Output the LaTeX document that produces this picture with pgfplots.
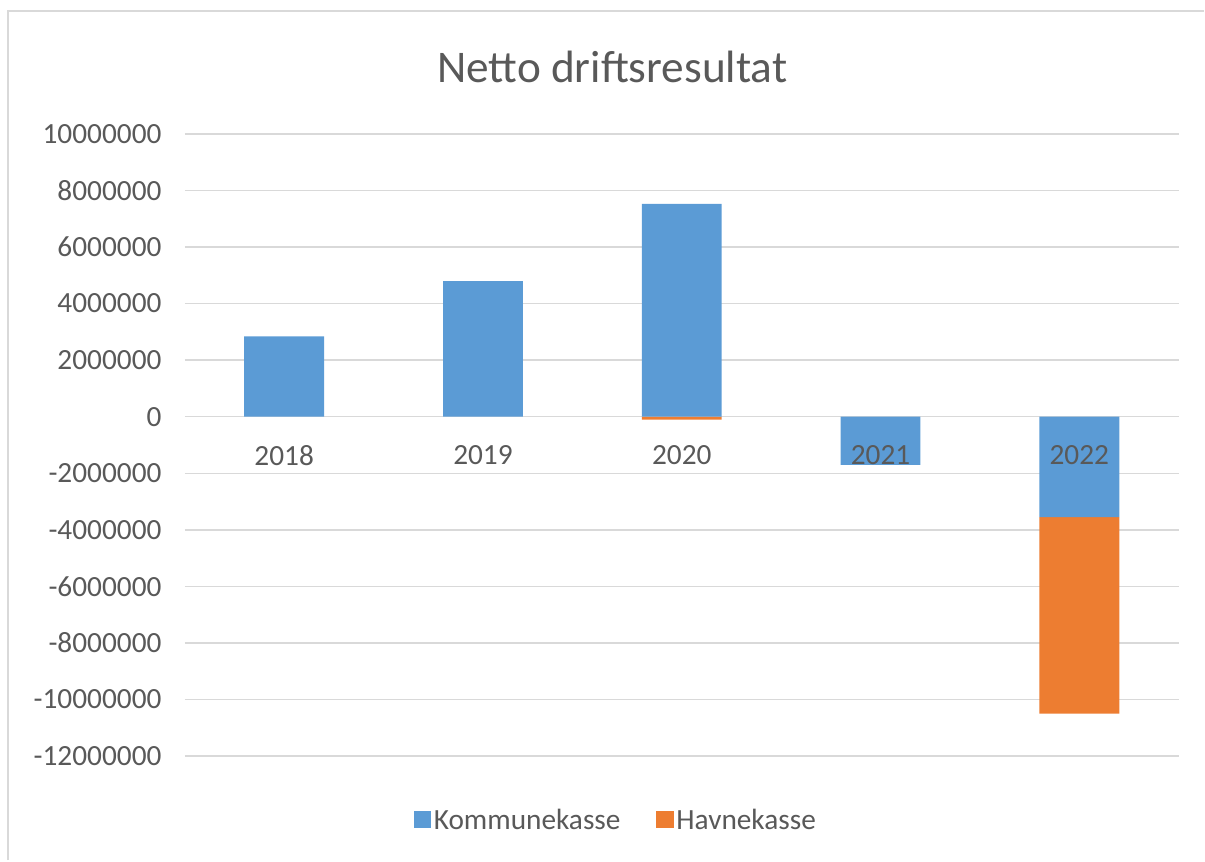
\documentclass[border=0pt]{standalone}
\usepackage{fontspec}
\setmainfont{Carlito}
\usepackage{pgfplots}
\pgfplotsset{compat=1.18}
\definecolor{kblue}{HTML}{5B9BD5}
\definecolor{horange}{HTML}{ED7D31}
\definecolor{txt}{HTML}{595959}
\definecolor{gridc}{HTML}{D9D9D9}
\tikzset{yrlabel/.style={txt, font=\fontsize{22}{26}\selectfont, yshift=-29pt}}
\begin{document}
\begin{tikzpicture}
% page = 1205 x 861 px at 0.75pt per px
\path (0pt,0pt) rectangle (903.75pt,645.75pt);
\draw[gridc, line width=2pt] (6pt,0pt) -- (6pt,637.5pt) -- (903.75pt,637.5pt);
\node[txt, font=\fontsize{34}{40}\selectfont] at (459.75pt,595.5pt) {Netto driftsresultat};
\begin{axis}[
    at={(138.75pt,78pt)}, anchor=south west,
    scale only axis,
    width=746.25pt, height=467.25pt,
    ybar stacked, stack negative=separate,
    bar width=60pt,
    xmin=-0.5, xmax=4.5,
    ymin=-12000000, ymax=10000000,
    ytick distance=2000000,
    xtick={0,1,2,3,4},
    xticklabels={},
    axis x line=middle,
    axis y line=left,
    x axis line style={gridc, line width=1pt, -},
    y axis line style={draw=none},
    major tick length=0pt,
    ymajorgrids,
    grid style={gridc, line width=1pt},
    scaled y ticks=false,
    /pgf/number format/assume math mode=true,
    yticklabel style={/pgf/number format/fixed, /pgf/number format/1000 sep={},
        xshift=-14pt},
    ticklabel style={txt, font=\fontsize{22}{26}\selectfont},
    legend columns=2,
    legend style={at={(0.434,-0.103)}, anchor=center, draw=none, fill=none,
        font=\fontsize{22}{26}\selectfont, text=txt,
        /tikz/every even column/.append style={column sep=25pt}},
    legend image code/.code={\fill[#1] (0pt,-6pt) rectangle (13pt,7pt);},
]
\addplot[fill=kblue, draw=none] coordinates {
    (0,2840000) (1,4790000) (2,7520000) (3,-1700000) (4,-3550000)
};
\addplot[fill=horange, draw=none] coordinates {
    (0,0) (1,0) (2,-100000) (3,0) (4,-6950000)
};
\legend{Kommunekasse,Havnekasse}
\coordinate (c0) at (axis cs:0,0);
\coordinate (c1) at (axis cs:1,0);
\coordinate (c2) at (axis cs:2,0);
\coordinate (c3) at (axis cs:3,0);
\coordinate (c4) at (axis cs:4,0);
\end{axis}
% category names sit on the zero line, drawn over the bars
\node[yrlabel] at (c0) {2018};
\node[yrlabel] at (c1) {2019};
\node[yrlabel] at (c2) {2020};
\node[yrlabel] at (c3) {2021};
\node[yrlabel] at (c4) {2022};
\end{tikzpicture}
\end{document}
